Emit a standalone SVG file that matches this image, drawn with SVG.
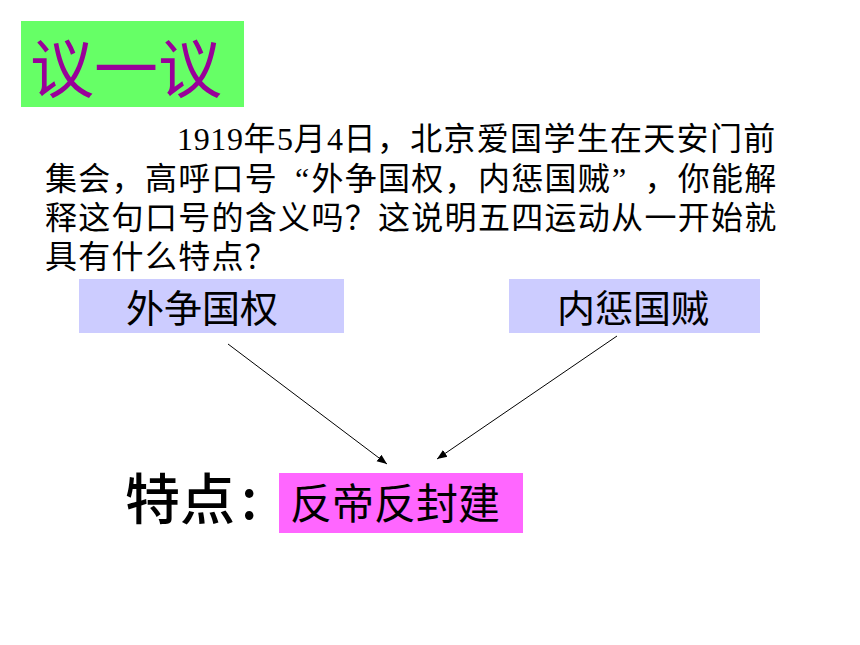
<svg xmlns="http://www.w3.org/2000/svg" width="860" height="645" viewBox="0 0 860 645">
<style>
.cjk{font-family:"Noto Sans CJK SC","Liberation Sans",sans-serif;}
.para{font-family:"Liberation Serif","Noto Sans CJK SC",serif;font-size:32px;fill:#000;}
.boxlabel{font-family:"Noto Sans CJK SC","Liberation Sans",sans-serif;font-size:38px;fill:#000;text-anchor:middle;}
.conn{stroke:#000;stroke-width:1;fill:none;marker-end:url(#arrow);}
</style>
<defs>
<marker id="arrow" viewBox="0 0 10 10" refX="10" refY="5" markerWidth="10" markerHeight="10" markerUnits="userSpaceOnUse" orient="auto">
<path d="M0,1 L10,5 L0,9 Z" fill="#000"/>
</marker>
</defs>
<rect width="860" height="645" fill="#fff"/>
<g id="title">
<rect x="21" y="21" width="223" height="86" fill="#66FF66"/>
<text class="cjk" x="30" y="92" font-size="64" fill="#990099">议一议</text>
</g>
<g id="question">
<text class="para" x="177 193.7 210.3 227 243.6 276.9 293.6 326.9 343.6 376.9 410.2 443.5 476.8 510.1 543.4 576.7 610 643.3 676.6 709.9 743.2" y="150">1919年5月4日，北京爱国学生在天安门前</text>
<text class="para" x="45 78.3 111.6 144.9 178.2 211.5 244.8 295 311.4 344.7 378 411.3 444.6 477.9 511.2 544.5 577.8 612 644.4 677.7 711 744.3" y="190">集会，高呼口号“外争国权，内惩国贼”，你能解</text>
<text class="para" x="45 78.3 111.6 144.9 178.2 211.5 244.8 278.1 311.4 344.7 378 411.3 444.6 477.9 511.2 544.5 577.8 611.1 644.4 677.7 711 744.3" y="229">释这句口号的含义吗？这说明五四运动从一开始就</text>
<text class="para" x="45 78.3 111.6 144.9 178.2 211.5 244.8" y="268">具有什么特点？</text>
</g>
<g id="node-waizheng">
<rect x="79" y="279" width="265" height="54" fill="#CCCCFF"/>
<text class="boxlabel" x="202" y="322">外争国权</text>
</g>
<g id="node-neicheng">
<rect x="509" y="279" width="251" height="54" fill="#CCCCFF"/>
<text class="boxlabel" x="633" y="322">内惩国贼</text>
</g>
<g id="label-tedian">
<text class="cjk" x="125" y="519" font-size="55" font-weight="500" fill="#000">特点<tspan x="241">:</tspan></text>
</g>
<g id="node-result">
<rect x="279" y="473" width="244" height="60" fill="#FF66FF"/>
<text class="cjk" x="290" y="519" font-size="42" fill="#000">反帝反封建</text>
</g>
<g id="connectors">
<line class="conn" x1="228" y1="344" x2="387" y2="464"/>
<line class="conn" x1="617" y1="336" x2="437" y2="459"/>
</g>
</svg>
